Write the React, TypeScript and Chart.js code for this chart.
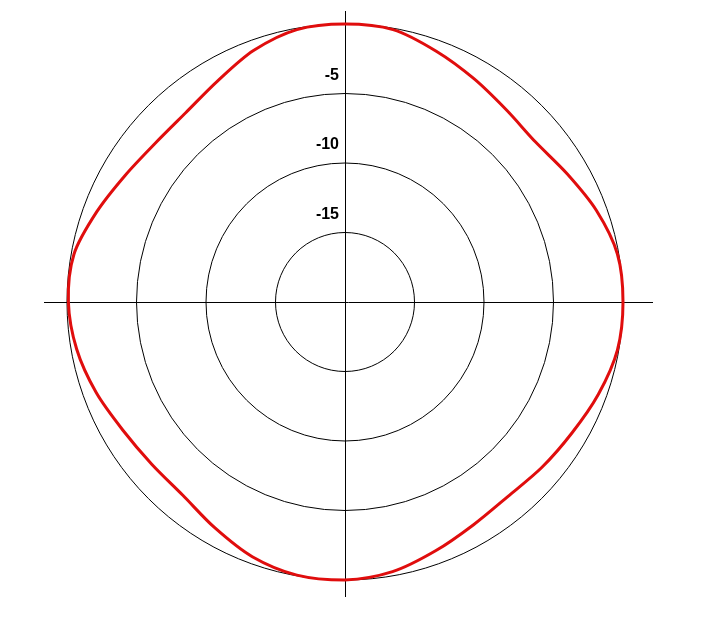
import { useEffect, useRef } from "react";
import { Chart, registerables } from "chart.js";

Chart.register(...registerables);

// pattern angle (deg, clockwise from top) and relative level in dB
const angles = [
  0, 10, 20, 30, 40, 50, 60, 70, 80, 90, 100, 110,
  120, 130, 140, 150, 160, 170, 180, 190, 200, 210, 220, 230,
  240, 250, 260, 270, 280, 290, 300, 310, 320, 330, 340, 350,
];
const levels = [
  0, -0.1, -0.8, -1.45, -1.95, -2.1, -1.55, -0.75, -0.1, 0, -0.1, -0.6,
  -1.15, -1.5, -1.75, -1.5, -0.95, -0.3, 0, -0.05, -0.5, -1.25, -1.85, -1.85,
  -1.55, -0.95, -0.4, -0.1, -0.2, -1.0, -1.75, -2.2, -2.2, -1.65, -0.75, -0.1,
];
const tickLabels = [-5, -10, -15];

const crossPlugin = {
  id: "cross",
  beforeDatasetsDraw(chart: any) {
    const scale = chart.scales.r;
    const cx = scale.xCenter;
    const cy = scale.yCenter;
    const ctx = chart.ctx;
    ctx.save();
    ctx.strokeStyle = "#000";
    ctx.lineWidth = 1;
    ctx.beginPath();
    ctx.moveTo(cx - 301, cy + 0.5);
    ctx.lineTo(cx + 308, cy + 0.5);
    ctx.moveTo(cx + 0.5, cy - 291);
    ctx.lineTo(cx + 0.5, cy + 295);
    ctx.stroke();

    ctx.fillStyle = "#000";
    ctx.font = "bold 16px 'Liberation Sans', Arial, sans-serif";
    ctx.textAlign = "right";
    ctx.textBaseline = "middle";
    tickLabels.forEach((v) => {
      const d = scale.getDistanceFromCenterForValue(v);
      ctx.fillText(String(v), cx - 6, cy - d - 18);
    });
    ctx.restore();
  },
};

export default function App() {
  const chartRef = useRef<HTMLCanvasElement>(null);
  const chartInstanceRef = useRef<Chart | null>(null);

  useEffect(() => {
    if (!chartRef.current) return;
    if (chartInstanceRef.current) {
      chartInstanceRef.current.destroy();
    }
    const ctx = chartRef.current.getContext("2d");
    if (!ctx) return;

    chartInstanceRef.current = new Chart(ctx, {
      type: "radar",
      data: {
        labels: angles.map((a) => a + "°"),
        datasets: [{
          label: "Pattern",
          data: levels,
          borderColor: "#e00d0d",
          borderWidth: 3,
          pointRadius: 0,
          fill: false,
          tension: 0.3,
        }],
      },
      options: {
        animation: false,
        responsive: true,
        maintainAspectRatio: false,
        layout: {
          padding: { top: 24, bottom: 52, left: 10, right: 22 },
        },
        plugins: {
          legend: { display: false },
          tooltip: { enabled: false },
        },
        scales: {
          r: {
            min: -20,
            max: 0,
            ticks: { stepSize: 5, display: false },
            grid: {
              circular: true,
              color: "#000",
              lineWidth: 1,
            },
            angleLines: { display: false },
            pointLabels: { display: false },
          },
        },
      },
      plugins: [crossPlugin],
    });

    return () => {
      if (chartInstanceRef.current) {
        chartInstanceRef.current.destroy();
        chartInstanceRef.current = null;
      }
    };
  }, []);

  return (
    <div style={{ position: "fixed", left: 0, top: 0, width: 702, height: 632, background: "#fff" }}>
      <canvas ref={chartRef}></canvas>
    </div>
  );
}
